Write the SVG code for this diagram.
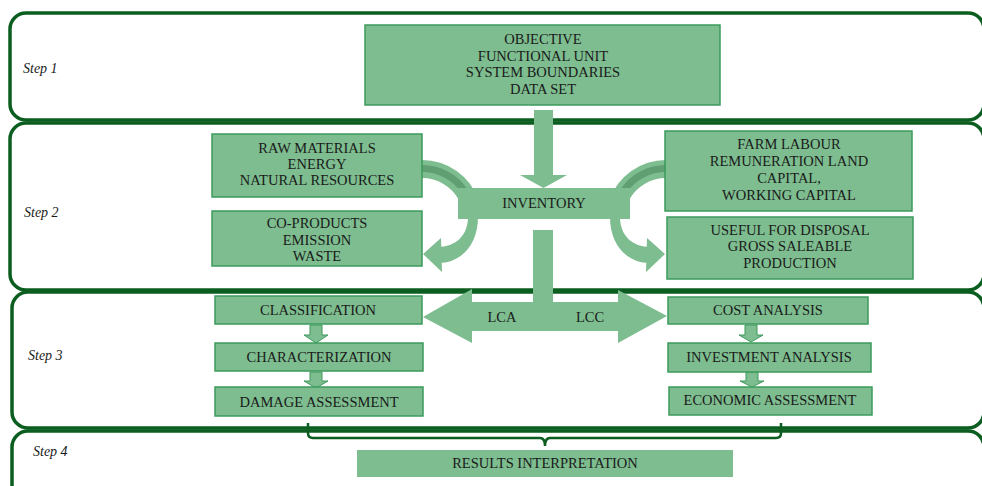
<svg xmlns="http://www.w3.org/2000/svg" width="982" height="486" viewBox="0 0 982 486">
<style>
.panel{fill:none;stroke:#0b5e1f;stroke-width:3.5}
.step{font-family:"Liberation Serif",serif;font-style:italic;font-size:14px;fill:#1a1a1a}
.box{fill:#7dbd8f;stroke:#3d9a5c;stroke-width:1.5}
.flat{fill:#7dbd8f}
.t{font-family:"Liberation Serif",serif;font-size:14.5px;fill:#1a1a1a;text-anchor:middle}
.stripe{fill:none;stroke:#5f9f71;stroke-width:7}
.small{fill:#7dbd8f;stroke:#3d9a5c;stroke-width:1}
.brace{fill:none;stroke:#0b5e1f;stroke-width:2.5}
</style>
<rect width="982" height="486" fill="#ffffff"/>
<g id="panels">
<rect class="panel" x="10" y="13" width="974" height="107" rx="16"/>
<rect class="panel" x="10" y="123" width="974" height="167" rx="16"/>
<rect class="panel" x="12" y="292" width="972" height="136" rx="16"/>
<rect class="panel" x="12" y="431" width="972" height="80" rx="16"/>
<text class="step" x="23" y="73">Step 1</text>
<text class="step" x="24" y="217">Step 2</text>
<text class="step" x="28" y="360">Step 3</text>
<text class="step" x="33" y="456">Step 4</text>
</g>
<g id="connectors">
<polygon class="flat" points="534,110 553,110 553,175 567,175 543.5,188 520,175 534,175"/>
<rect class="flat" x="533" y="230" width="20" height="75"/>
<polygon class="flat" points="423,317 472,289 472,302 618,302 618,290 667,316 618,343 618,331 472,331 472,343"/>
<path class="flat" d="M422,160 A60,60 0 0 1 478.6,200 L459,200 A42,42 0 0 0 422,178 Z"/>
<path class="stripe" d="M422,168.5 A51.5,51.5 0 0 1 464.2,190.5"/>
<path class="flat" d="M666,160 A60,60 0 0 0 609.4,200 L629,200 A42,42 0 0 1 666,178 Z"/>
<path class="stripe" d="M666,168.5 A51.5,51.5 0 0 0 623.8,190.5"/>
<path class="flat" d="M478,217 C478,244 462,263 438,263 L438,247 C455,247 468,236 468,217 Z"/>
<polygon class="flat" points="423,254 441,238 442,272"/>
<path class="flat" d="M610,217 C610,244 626,263 650,263 L650,247 C633,247 620,236 620,217 Z"/>
<polygon class="flat" points="665,254 647,238 646,272"/>
<polygon class="small" points="310,325 322,325 322,335 328,335 316,343 304,335 310,335"/>
<polygon class="small" points="310,372 322,372 322,381 328,381 316,388 304,381 310,381"/>
<polygon class="small" points="745,325 757,325 757,335 763,335 751,342 739,335 745,335"/>
<polygon class="small" points="746,372 758,372 758,381 764,381 752,387 740,381 746,381"/>
<path class="brace" d="M308,423 L308,433 Q308,438 313,438 L540,438 Q545,438 545,446 Q545,438 550,438 L776,438 Q781,438 781,433 L781,423"/>
</g>
<g id="objective">
<rect class="box" x="365" y="25" width="355" height="80"/>
<text class="t" x="543" y="44">OBJECTIVE</text>
<text class="t" x="543" y="61">FUNCTIONAL UNIT</text>
<text class="t" x="543" y="77">SYSTEM BOUNDARIES</text>
<text class="t" x="543" y="94">DATA SET</text>
</g>
<g id="inventory">
<rect class="flat" x="458" y="188" width="172" height="31"/>
<text class="t" x="544" y="208">INVENTORY</text>
</g>
<g id="raw-materials">
<rect class="box" x="212" y="134" width="210" height="63"/>
<text class="t" x="317" y="153">RAW MATERIALS</text>
<text class="t" x="317" y="169">ENERGY</text>
<text class="t" x="317" y="185">NATURAL RESOURCES</text>
</g>
<g id="co-products">
<rect class="box" x="212" y="211" width="210" height="55"/>
<text class="t" x="317" y="228">CO-PRODUCTS</text>
<text class="t" x="317" y="245">EMISSION</text>
<text class="t" x="317" y="261">WASTE</text>
</g>
<g id="farm-labour">
<rect class="box" x="665" y="131" width="247" height="80"/>
<text class="t" x="789" y="149">FARM LABOUR</text>
<text class="t" x="789" y="166">REMUNERATION LAND</text>
<text class="t" x="789" y="183">CAPITAL,</text>
<text class="t" x="789" y="200">WORKING CAPITAL</text>
</g>
<g id="useful">
<rect class="box" x="667" y="217" width="246" height="62"/>
<text class="t" x="790" y="235">USEFUL FOR DISPOSAL</text>
<text class="t" x="790" y="251">GROSS SALEABLE</text>
<text class="t" x="790" y="268">PRODUCTION</text>
</g>
<g id="lca-lcc">
<text class="t" x="502" y="322">LCA</text>
<text class="t" x="590" y="322">LCC</text>
</g>
<g id="classification">
<rect class="box" x="215" y="296" width="207" height="28"/>
<text class="t" x="318" y="315">CLASSIFICATION</text>
</g>
<g id="characterization">
<rect class="box" x="215" y="343" width="208" height="28"/>
<text class="t" x="319" y="362">CHARACTERIZATION</text>
</g>
<g id="damage-assessment">
<rect class="box" x="215" y="387" width="208" height="29"/>
<text class="t" x="319" y="407">DAMAGE ASSESSMENT</text>
</g>
<g id="cost-analysis">
<rect class="box" x="668" y="297" width="200" height="27"/>
<text class="t" x="768" y="315">COST ANALYSIS</text>
</g>
<g id="investment-analysis">
<rect class="box" x="668" y="343" width="203" height="29"/>
<text class="t" x="769" y="362">INVESTMENT ANALYSIS</text>
</g>
<g id="economic-assessment">
<rect class="box" x="669" y="387" width="203" height="28"/>
<text class="t" x="770" y="405">ECONOMIC ASSESSMENT</text>
</g>
<g id="results">
<rect class="flat" x="357" y="450" width="376" height="27"/>
<text class="t" x="545" y="468">RESULTS INTERPRETATION</text>
</g>
</svg>
